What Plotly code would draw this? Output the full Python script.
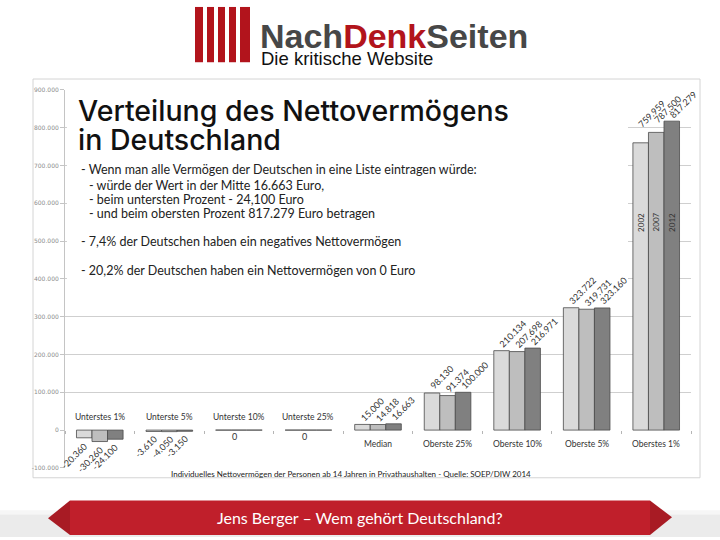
import plotly.graph_objects as go

# ---------------- data ----------------
categories = ["Unterstes 1%", "Unterste 5%", "Unterste 10%", "Unterste 25%", "Median",
              "Oberste 25%", "Oberste 10%", "Oberste 5%", "Oberstes 1%"]
years = ["2002", "2007", "2012"]
values_2002 = [-20360, -3610, 0, 0, 15000, 98130, 210134, 323722, 759959]
values_2007 = [-30260, -4050, 0, 0, 14818, 91374, 207698, 319731, 787500]
values_2012 = [-24100, -3150, 0, 0, 16663, 100000, 216971, 323160, 817279]
y_tick_values = [-100000, 0, 100000, 200000, 300000, 400000, 500000, 600000, 700000, 800000, 900000]

title_lines = ["Verteilung des Nettovermögens", "in Deutschland"]
bullet_lines = [
    "- Wenn man alle Vermögen der Deutschen in eine Liste eintragen würde:",
    "  - würde der Wert in der Mitte 16.663 Euro,",
    "  - beim untersten Prozent - 24,100 Euro",
    "  - und beim obersten Prozent 817.279 Euro betragen",
    "- 7,4% der Deutschen haben ein negatives Nettovermögen",
    "- 20,2% der Deutschen haben ein Nettovermögen von 0 Euro",
]
axis_caption = ("Individuelles Nettovermögen der Personen ab 14 Jahren in Privathaushalten"
                " - Quelle: SOEP/DIW 2014")
footer_text = "Jens Berger – Wem gehört Deutschland?"

series = [values_2002, values_2007, values_2012]
colors = ["#dadada", "#bebebe", "#808080"]

W, H = 720, 540
def X(px):
    return px / W
def Y(py):
    return 1 - py / H

def de(v):
    return f"{v:,}".replace(",", ".")

PLOT_L, PLOT_R, PLOT_T, PLOT_B = 65, 691, 87, 470
y_min, y_max = -100000, 900000
y_dom = [Y(PLOT_B), Y(PLOT_T)]
x_dom = [X(PLOT_L), X(PLOT_R)]
zero_pos = y_dom[0] + (0 - y_min) / (y_max - y_min) * (y_dom[1] - y_dom[0])
BAR_PX = 15.5
n_cat = len(categories)
# labels lifted to avoid collisions (as in the original chart)
label_lift = {"Oberstes 1%": [12, 6, 0]}

# pixel -> axis coordinate helpers (for the decorative text box only)
def XC(px):
    return -0.5 + (px - PLOT_L) / (PLOT_R - PLOT_L) * n_cat
def YC(py):
    return y_min + (PLOT_B - py) / (PLOT_B - PLOT_T) * (y_max - y_min)

FONT = "Lato"

fig = go.Figure()
for yr, vals, col in zip(years, series, colors):
    fig.add_trace(go.Bar(
        x=categories, y=vals, name=yr,
        marker=dict(color=col, line=dict(color="#4a4a4a", width=0.8)),
        showlegend=False, hoverinfo="x+y",
    ))

annotations = []
# value labels (rotated, starting at bar top / ending at bar bottom)
for k, vals in enumerate(series):
    for cat, v in zip(categories, vals):
        if v == 0:
            continue
        lift = label_lift.get(cat, [0, 0, 0])[k]
        if v > 0:
            annotations.append(dict(x=cat, y=v, xref="x", yref="y", text=de(v),
                                    textangle=-45, showarrow=False,
                                    xanchor="left", yanchor="bottom",
                                    xshift=(k - 1) * BAR_PX - BAR_PX / 2 + 2, yshift=lift,
                                    borderpad=0,
                                    font=dict(family=FONT, size=9, color="#333")))
        else:
            annotations.append(dict(x=cat, y=v, xref="x", yref="y", text=de(v),
                                    textangle=-45, showarrow=False,
                                    xanchor="right", yanchor="top",
                                    xshift=(k - 1) * BAR_PX + BAR_PX / 2 - 1, yshift=-1,
                                    borderpad=0,
                                    font=dict(family=FONT, size=9, color="#333")))

# category labels
for i, cat in enumerate(categories):
    mx = max(s[i] for s in series)
    above = mx <= 0
    annotations.append(dict(x=cat, y=0, xref="x", yref="y", text=cat, showarrow=False,
                            yshift=13 if above else -14,
                            font=dict(family=FONT, size=8.5, color="#333")))
    if all(s[i] == 0 for s in series):
        annotations.append(dict(x=cat, y=0, xref="x", yref="y", text=de(series[1][i]),
                                showarrow=False, yshift=-6, xshift=-4,
                                font=dict(family=FONT, size=9, color="#333")))

# year labels inside the last group
last = n_cat - 1
for k, yr in enumerate(years):
    annotations.append(dict(x=categories[last], y=550000, xref="x", yref="y", text=yr,
                            textangle=-90, showarrow=False, xshift=(k - 1) * BAR_PX,
                            font=dict(family=FONT, size=8, color="#333")))

# title and bullet texts
for txt, py in zip(title_lines, [108, 137]):
    annotations.append(dict(x=X(77), y=Y(py), xref="paper", yref="paper", text=txt,
                            xanchor="left", yanchor="middle", showarrow=False, borderpad=0,
                            font=dict(family="Inter", size=28.5, color="#111", weight=500)))
for txt, py in zip(bullet_lines, [168, 184, 198, 212, 241, 270]):
    indent = txt.startswith("  ")
    annotations.append(dict(x=X(87 if indent else 79), y=Y(py), xref="paper", yref="paper",
                            text=txt.strip(), xanchor="left", yanchor="middle",
                            showarrow=False,
                            font=dict(family=FONT, size=12.5, color="#222")))
annotations.append(dict(x=X(351), y=Y(476), xref="paper", yref="paper", text=axis_caption,
                        showarrow=False, xanchor="center", yanchor="middle",
                        font=dict(family=FONT, size=8, color="#222")))

# logo texts
annotations.append(dict(x=X(259), y=Y(32), xref="paper", yref="paper",
                        text="<span style='color:#474747'>Nach</span>"
                             "<span style='color:#b2141c'>Denk</span>"
                             "<span style='color:#474747'>Seiten</span>",
                        showarrow=False, xanchor="left", yanchor="middle", borderpad=0,
                        font=dict(family="Liberation Sans", size=34, weight=700)))
annotations.append(dict(x=X(260), y=Y(55), xref="paper", yref="paper",
                        text="Die kritische Website", showarrow=False, borderpad=0,
                        xanchor="left", yanchor="middle",
                        font=dict(family="Liberation Sans", size=18.5, color="#111")))
# footer text
annotations.append(dict(x=X(360), y=Y(520), xref="paper", yref="paper", text=footer_text,
                        showarrow=False, xanchor="center", yanchor="middle",
                        font=dict(family=FONT, size=16, color="white")))

shapes = []
# chart frame
shapes.append(dict(type="rect", xref="paper", yref="paper", x0=X(33), x1=X(700),
                   y0=Y(480), y1=Y(76), line=dict(color="#d4d4d4", width=1),
                   fillcolor="white", layer="below"))
# white text box covering the grid (drawn between grid and bars)
shapes.append(dict(type="rect", xref="x", yref="y", x0=XC(67), x1=XC(628),
                   y0=YC(300), y1=YC(87), line=dict(width=0), fillcolor="white",
                   layer="between"))
# logo stripes
for x0, x1 in [(195, 203), (207, 214), (218, 225), (229, 236), (240, 250)]:
    shapes.append(dict(type="rect", xref="paper", yref="paper", x0=X(x0), x1=X(x1),
                       y0=Y(59), y1=Y(3), line=dict(width=0), fillcolor="#b2141c"))
# footer band
shapes.append(dict(type="rect", xref="paper", yref="paper", x0=0, x1=1, y0=Y(540), y1=Y(517),
                   line=dict(width=0), fillcolor="#ebebeb"))
shapes.append(dict(type="rect", xref="paper", yref="paper", x0=0, x1=1, y0=Y(517), y1=Y(513),
                   line=dict(width=0), fillcolor="#f6f6f6"))
def path(pts):
    return "M " + " L ".join(f"{X(a)},{Y(b)}" for a, b in pts) + " Z"
shapes.append(dict(type="path", xref="paper", yref="paper",
                   path=path([(48, 521), (70, 503), (70, 538)]),
                   line=dict(width=0), fillcolor="#a81b24"))
shapes.append(dict(type="path", xref="paper", yref="paper",
                   path=path([(672, 520), (650, 503), (650, 538)]),
                   line=dict(width=0), fillcolor="#a81b24"))
shapes.append(dict(type="rect", xref="paper", yref="paper", x0=X(70), x1=X(650),
                   y0=Y(538), y1=Y(503), line=dict(width=0), fillcolor="#c01f2b"))

fig.update_layout(
    width=W, height=H, margin=dict(l=0, r=0, t=0, b=0),
    paper_bgcolor="white", plot_bgcolor="rgba(0,0,0,0)",
    separators=",.",
    barmode="group", bargap=0.33, bargroupgap=0,
    showlegend=False,
    xaxis=dict(domain=x_dom, type="category", range=[-0.5, n_cat - 0.5],
               showticklabels=False, ticks="outside", tickson="boundaries", ticklen=3,
               tickcolor="#b5b5b5", showline=False, showgrid=False, zeroline=False,
               anchor="free", position=zero_pos),
    yaxis=dict(domain=y_dom, range=[y_min, y_max], tickvals=y_tick_values,
               ticktext=[de(v) for v in y_tick_values],
               tickfont=dict(family="DejaVu Sans", size=6, color="#8c8c8c"),
               showline=True, linecolor="#c4c4c4", linewidth=1, ticks="outside",
               ticklen=4, tickcolor="#c4c4c4", showgrid=False, zeroline=False,
               minor=dict(tickvals=[v for v in y_tick_values if v > 0], showgrid=True,
                          gridcolor="#cfcfcf", gridwidth=1, ticks="")),
    annotations=annotations, shapes=shapes,
    font=dict(family=FONT),
)

fig.write_html("out.html")
